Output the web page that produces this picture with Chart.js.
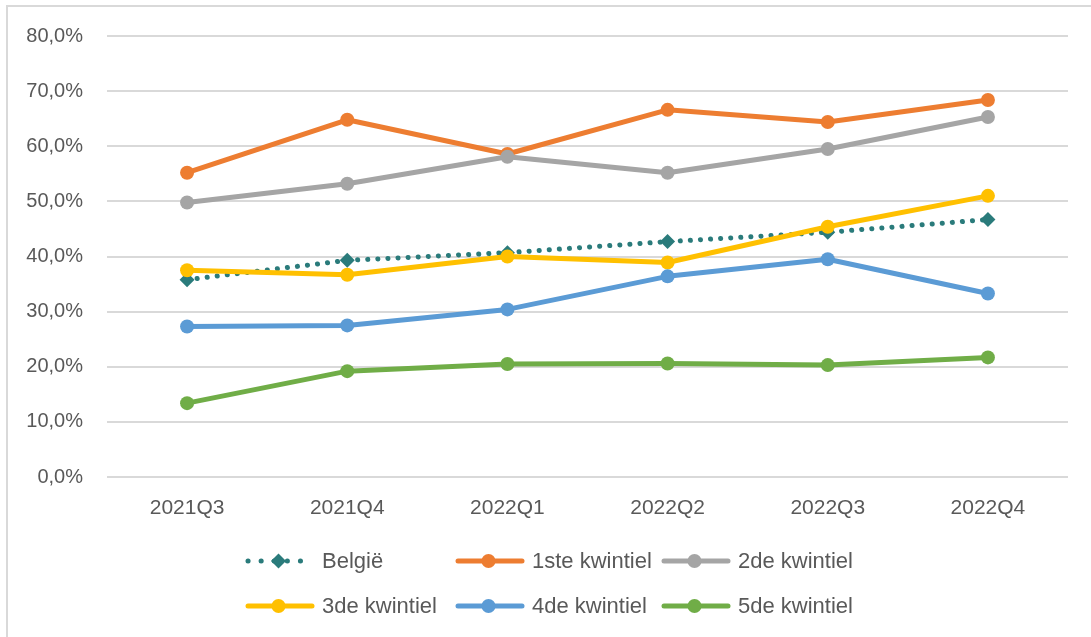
<!DOCTYPE html>
<html>
<head>
<meta charset="utf-8">
<script src="https://cdn.jsdelivr.net/npm/chart.js@4"></script>
<style>
  html, body { margin: 0; padding: 0; background: #fff; }
  #wrap { width: 1091px; height: 637px; position: relative; }
</style>
</head>
<body>
<div id="wrap"><canvas id="c" width="1091" height="637"></canvas></div>
<script>
const categories = ['2021Q3', '2021Q4', '2022Q1', '2022Q2', '2022Q3', '2022Q4'];
const belgie   = [35.8, 39.3, 40.7, 42.7, 44.4, 46.7];
const kwint1   = [55.2, 64.8, 58.6, 66.6, 64.4, 68.4];
const kwint2   = [49.8, 53.2, 58.1, 55.2, 59.5, 65.3];
const kwint3   = [37.5, 36.7, 40.0, 38.9, 45.4, 51.0];
const kwint4   = [27.3, 27.5, 30.4, 36.4, 39.5, 33.3];
const kwint5   = [13.4, 19.2, 20.5, 20.6, 20.3, 21.7];
const yTicks   = [0, 10, 20, 30, 40, 50, 60, 70, 80];
const seriesNames = ['België', '1ste kwintiel', '2de kwintiel', '3de kwintiel', '4de kwintiel', '5de kwintiel'];

const TEXT = '#595959';
const FONT = '"Liberation Sans", Arial, sans-serif';

function solid(label, data, color, order) {
  return {
    label, data, order,
    borderColor: color, backgroundColor: color,
    borderWidth: 5, pointRadius: 7, pointHoverRadius: 7,
    pointBorderWidth: 0, pointBackgroundColor: color,
    pointStyle: 'circle', tension: 0, borderJoinStyle: 'round'
  };
}

const datasets = [
  {
    label: seriesNames[0], data: belgie, order: 10,
    borderColor: '#2A7B7B', backgroundColor: '#2A7B7B',
    borderWidth: 5, borderDash: [0.1, 10], borderCapStyle: 'round',
    pointStyle: 'rectRot', pointRadius: 7.5, pointHoverRadius: 7.5,
    pointBorderWidth: 0, pointBackgroundColor: '#2A7B7B', tension: 0
  },
  solid(seriesNames[1], kwint1, '#ED7D31', 9),
  solid(seriesNames[2], kwint2, '#A5A5A5', 8),
  solid(seriesNames[3], kwint3, '#FFC000', 7),
  solid(seriesNames[4], kwint4, '#5B9BD5', 6),
  solid(seriesNames[5], kwint5, '#70AD47', 5)
];

const framePlugin = {
  id: 'frame',
  beforeDraw(chart) {
    const ctx = chart.ctx;
    ctx.save();
    ctx.strokeStyle = '#D9D9D9';
    ctx.lineWidth = 2;
    ctx.beginPath();
    ctx.moveTo(7, chart.height);
    ctx.lineTo(7, 6);
    ctx.lineTo(chart.width, 6);
    ctx.stroke();
    ctx.restore();
  }
};

const legendPlugin = {
  id: 'customLegend',
  afterDraw(chart) {
    const ctx = chart.ctx;
    const cols = [245, 455, 661];
    const rows = [561, 606];
    const lineLen = 67;
    ctx.save();
    chart.data.datasets.forEach((ds, i) => {
      const x0 = cols[i % 3];
      const y = rows[Math.floor(i / 3)];
      const xm = x0 + lineLen / 2;
      ctx.strokeStyle = ds.borderColor;
      ctx.fillStyle = ds.borderColor;
      ctx.lineWidth = 5;
      if (ds.borderDash) {
        ctx.setLineDash([0.1, 13]);
      } else {
        ctx.setLineDash([]);
      }
      ctx.lineCap = 'round';
      ctx.beginPath();
      ctx.moveTo(x0 + 3, y);
      ctx.lineTo(x0 + lineLen, y);
      ctx.stroke();
      ctx.setLineDash([]);
      ctx.beginPath();
      if (ds.pointStyle === 'rectRot') {
        const r = 7.5;
        ctx.moveTo(xm, y - r); ctx.lineTo(xm + r, y); ctx.lineTo(xm, y + r); ctx.lineTo(xm - r, y); ctx.closePath();
      } else {
        ctx.arc(xm, y, 7, 0, Math.PI * 2);
      }
      ctx.fill();
      ctx.fillStyle = TEXT;
      ctx.font = '22px ' + FONT;
      ctx.textBaseline = 'middle';
      ctx.textAlign = 'left';
      ctx.fillText(ds.label, x0 + lineLen + 10, y + 1);
    });
    ctx.restore();
  }
};

new Chart(document.getElementById('c'), {
  type: 'line',
  data: { labels: categories, datasets },
  options: {
    responsive: false,
    devicePixelRatio: 1,
    animation: false,
    layout: { padding: { left: 7, right: 23, top: 35, bottom: 0 } },
    plugins: {
      legend: { display: false },
      tooltip: { enabled: false }
    },
    scales: {
      x: {
        offset: true,
        grid: { display: false, drawTicks: false },
        border: { display: false },
        ticks: { color: TEXT, font: { family: FONT, size: 21 }, padding: 19, maxRotation: 0 },
        afterFit(scale) { scale.height = 160; }
      },
      y: {
        min: 0, max: 80,
        grid: { color: '#D9D9D9', lineWidth: 2, drawTicks: false },
        border: { display: false },
        afterBuildTicks(scale) { scale.ticks = yTicks.map(v => ({ value: v })); },
        ticks: {
          color: TEXT, font: { family: FONT, size: 20 }, padding: 24,
          callback: v => v.toFixed(1).replace('.', ',') + '%'
        },
        afterFit(scale) { scale.width = 100; }
      }
    }
  },
  plugins: [framePlugin, legendPlugin]
});
</script>
</body>
</html>
